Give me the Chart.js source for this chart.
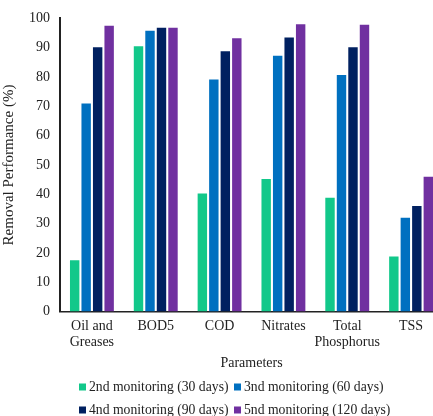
<!DOCTYPE html>
<html>
<head>
<meta charset="utf-8">
<script src="https://cdn.jsdelivr.net/npm/chart.js@4.4.1/dist/chart.umd.min.js"></script>
<style>
  html, body { margin: 0; padding: 0; background: #fff; overflow: hidden; }
  .wrap { width: 443px; height: 416px; }
</style>
</head>
<body>
<div class="wrap"><canvas id="myBarChart"></canvas></div>
<script>
// categories + series
const params = [["Oil and", "Greases"], "BOD5", "COD", "Nitrates", ["Total", "Phosphorus"], "TSS"];
const seriesNames = ["2nd monitoring (30 days)", "3nd monitoring (60 days)", "4nd monitoring (90 days)", "5nd monitoring (120 days)"];
const mon30  = [17.5, 90.5, 40.3, 45.2, 38.8, 18.8];
const mon60  = [71.0, 95.8, 79.2, 87.3, 80.7, 32.0];
const mon90  = [90.2, 96.8, 88.8, 93.5, 90.2, 36.0];
const mon120 = [97.5, 96.8, 93.2, 98.0, 97.8, 46.0];
const colors = ["#12c88a", "#0070c0", "#002060", "#7030a0"];

const serif = "'Liberation Serif', 'Times New Roman', serif";
Chart.defaults.font.family = serif;
Chart.defaults.color = "#222";

// legend drawn by hand: 2 rows x 2 columns like the original
const legendPos = [[79, 387], [234, 387], [79, 410], [234, 410]];
const gridLegend = {
  id: 'gridLegend',
  afterDraw(chart) {
    const c = chart.ctx;
    c.save();
    c.font = "13.7px " + serif;
    c.textBaseline = 'middle';
    chart.data.datasets.forEach((ds, i) => {
      const [x, y] = legendPos[i];
      c.fillStyle = ds.backgroundColor;
      c.fillRect(x, y - 3.5, 7, 7);
      c.fillStyle = "#222";
      c.fillText(ds.label, x + 10, y);
    });
    c.restore();
  }
};

const ctx = document.getElementById('myBarChart').getContext('2d');
const allSeries = [mon30, mon60, mon90, mon120];

const myBarChart = new Chart(ctx, {
  type: 'bar',
  data: {
    labels: params,
    datasets: allSeries.map((s, i) => ({
      label: seriesNames[i],
      data: s,
      backgroundColor: colors[i],
      borderWidth: 0,
      categoryPercentage: 0.72,
      barPercentage: 0.82
    }))
  },
  options: {
    responsive: true,
    maintainAspectRatio: false,
    animation: false,
    layout: { padding: { top: 10, left: 0, right: 0, bottom: 44 } },
    plugins: {
      tooltip: { enabled: false },
      legend: { display: false }
    },
    scales: {
      x: {
        grid: { display: false, drawTicks: false },
        border: { color: "#222", width: 1.5 },
        ticks: { font: { size: 14 }, padding: 6, maxRotation: 0, autoSkip: false },
        title: { display: true, text: "Parameters", font: { size: 14 }, padding: { top: -2, bottom: 0 } }
      },
      y: {
        min: 0,
        max: 100,
        grid: { display: false, drawTicks: false },
        border: { color: "#222", width: 2 },
        ticks: { stepSize: 10, font: { size: 14 }, padding: 10 },
        title: { display: true, text: "Removal Performance (%)", font: { size: 15 }, padding: { top: 0, bottom: 1 } }
      }
    }
  },
  plugins: [gridLegend]
});
</script>
</body>
</html>
